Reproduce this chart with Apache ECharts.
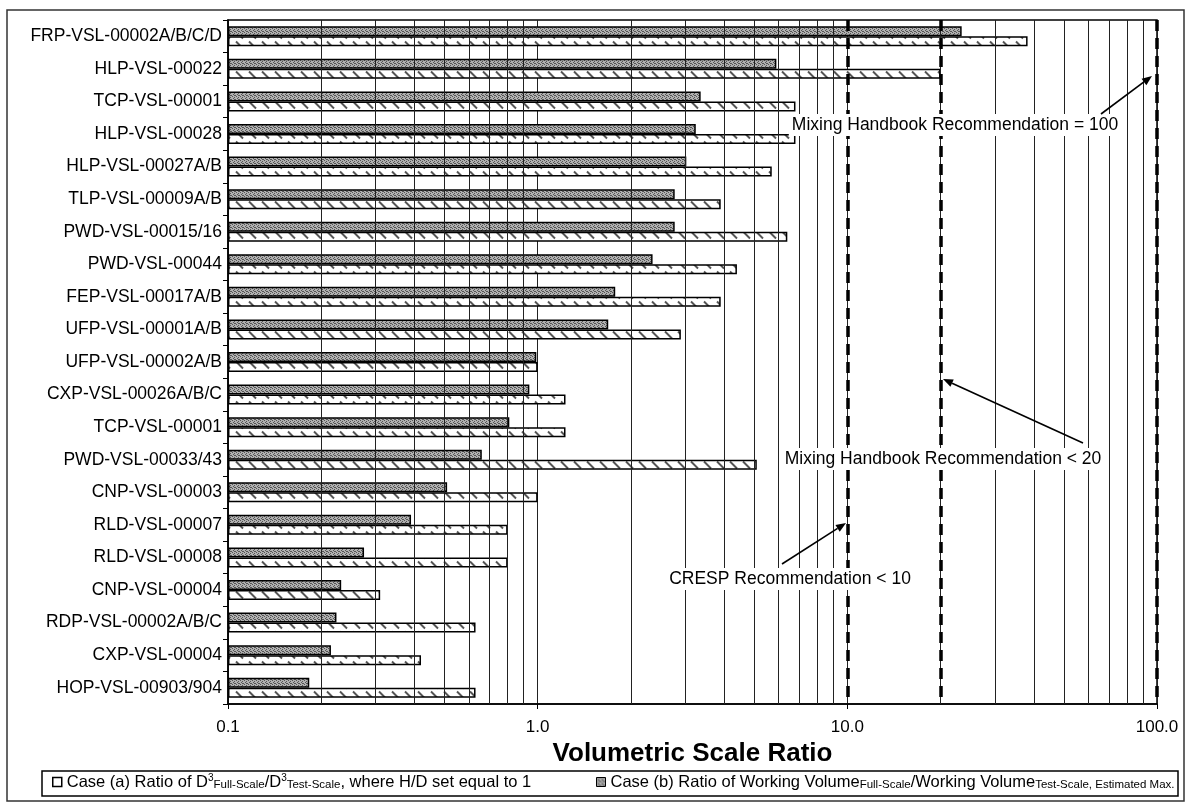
<!DOCTYPE html>
<html>
<head>
<meta charset="utf-8">
<script src="https://cdn.jsdelivr.net/npm/echarts@6/dist/echarts.min.js"></script>
<style>
  html, body { margin: 0; padding: 0; background: #fff; }
  #chart { width: 1190px; height: 808px; }
</style>
</head>
<body>
<div id="chart"></div>
<script>
// Vessels, listed top to bottom
const categories = [
  'FRP-VSL-00002A/B/C/D', 'HLP-VSL-00022', 'TCP-VSL-00001', 'HLP-VSL-00028',
  'HLP-VSL-00027A/B', 'TLP-VSL-00009A/B', 'PWD-VSL-00015/16', 'PWD-VSL-00044',
  'FEP-VSL-00017A/B', 'UFP-VSL-00001A/B', 'UFP-VSL-00002A/B', 'CXP-VSL-00026A/B/C',
  'TCP-VSL-00001', 'PWD-VSL-00033/43', 'CNP-VSL-00003', 'RLD-VSL-00007',
  'RLD-VSL-00008', 'CNP-VSL-00004', 'RDP-VSL-00002A/B/C', 'CXP-VSL-00004',
  'HOP-VSL-00903/904'
];

// Case (a): D^3 full-scale / D^3 test-scale, H/D = 1
const caseA = [38.2, 20.0, 6.8, 6.8, 5.7, 3.9, 6.4, 4.4, 3.9, 2.9, 1.0, 1.23,
  1.23, 5.1, 1.0, 0.8, 0.8, 0.31, 0.63, 0.42, 0.63];

// Case (b): working volume full-scale / working volume test-scale
const caseB = [23.4, 5.9, 3.36, 3.24, 3.02, 2.77, 2.77, 2.35, 1.78, 1.69, 0.99, 0.94,
  0.81, 0.66, 0.51, 0.39, 0.275, 0.232, 0.224, 0.215, 0.183];

// Log-axis tick labels and intermediate grid values
const tickValues = [0.1, 1, 10, 100];
const minorGrid = [0.2, 0.3, 0.4, 0.5, 0.6, 0.7, 0.8, 0.9, 2, 3, 4, 5, 6, 7, 8, 9,
  20, 30, 40, 50, 60, 70, 80, 90];

// Recommendation limits
const limits = [10, 20, 100];
const notes = [
  'Mixing Handbook Recommendation = 100',
  'Mixing Handbook Recommendation < 20',
  'CRESP Recommendation < 10'
];

const nameA = 'Case (a)';
const nameB = 'Case (b)';

function hatchPattern() {
  const c = document.createElement('canvas');
  c.width = 13; c.height = 10;
  const g = c.getContext('2d');
  g.fillStyle = '#ffffff';
  g.fillRect(0, 0, 13, 10);
  g.strokeStyle = '#555555';
  g.lineWidth = 1.9;
  g.beginPath();
  g.moveTo(2, 1.5);
  g.lineTo(9, 8.5);
  g.stroke();
  return c;
}

function stipplePattern() {
  const c = document.createElement('canvas');
  c.width = 4; c.height = 4;
  const g = c.getContext('2d');
  g.fillStyle = '#b0b0b0';
  g.fillRect(0, 0, 4, 4);
  g.fillStyle = '#555555';
  [[0, 0], [2, 1], [1, 2], [3, 3], [2, 3]].forEach(p => g.fillRect(p[0], p[1], 1, 1));
  return c;
}

const hatchFill = { image: hatchPattern(), repeat: 'repeat' };
const stippleFill = { image: stipplePattern(), repeat: 'repeat' };

const FONT = '"Liberation Sans", Arial, Helvetica, sans-serif';

const legendRich = {
  sup: { fontSize: 10, fontFamily: FONT, color: '#000', verticalAlign: 'top', lineHeight: 10 },
  sub: { fontSize: 11.5, fontFamily: FONT, color: '#000', verticalAlign: 'bottom', lineHeight: 10 }
};

function arrow(x1, y1, x2, y2) {
  const ang = Math.atan2(y2 - y1, x2 - x1);
  const len = 10, half = 4;
  const bx = x2 - len * Math.cos(ang), by = y2 - len * Math.sin(ang);
  const px = -Math.sin(ang) * half, py = Math.cos(ang) * half;
  return [
    { type: 'line', z: 100, shape: { x1: x1, y1: y1, x2: bx, y2: by },
      style: { stroke: '#000', lineWidth: 1.6 } },
    { type: 'polygon', z: 100,
      shape: { points: [[x2, y2], [bx + px, by + py], [bx - px, by - py]] },
      style: { fill: '#000' } }
  ];
}

function note(text, cx, cy) {
  return {
    type: 'text', z: 99, x: cx, y: cy,
    style: {
      text: text, font: '17.5px ' + FONT, fill: '#000',
      align: 'center', verticalAlign: 'middle',
      backgroundColor: '#fff', padding: [2, 3]
    }
  };
}

const chart = echarts.init(document.getElementById('chart'), null, { renderer: 'canvas' });

chart.setOption({
  animation: false,
  backgroundColor: '#fff',
  textStyle: { fontFamily: FONT },
  grid: {
    left: 228, right: 33, top: 20, bottom: 104,
    show: true, borderColor: '#000', borderWidth: 1.5, backgroundColor: 'transparent'
  },
  legend: [
    {
      data: [{ name: nameA, itemStyle: { color: '#fff', borderColor: '#000', borderWidth: 1.5 } }],
      left: 47, top: 771, icon: 'rect', itemWidth: 9, itemHeight: 9,
      selectedMode: false, padding: [2, 5],
      textStyle: { fontSize: 16.5, fontFamily: FONT, color: '#000', lineHeight: 18, rich: legendRich },
      formatter: () => 'Case (a) Ratio of D{sup|3}{sub|Full-Scale}/D{sup|3}{sub|Test-Scale}, where H/D set equal to 1'
    },
    {
      data: [{ name: nameB, itemStyle: { color: stippleFill, borderColor: '#000', borderWidth: 1 } }],
      left: 591, top: 771, icon: 'rect', itemWidth: 9, itemHeight: 9,
      selectedMode: false, padding: [2, 5],
      textStyle: { fontSize: 16.5, fontFamily: FONT, color: '#000', lineHeight: 18, rich: legendRich },
      formatter: () => 'Case (b) Ratio of Working Volume{sub|Full-Scale}/Working Volume{sub|Test-Scale, Estimated Max.}'
    }
  ],
  xAxis: {
    type: 'log',
    logBase: 10,
    min: tickValues[0],
    max: tickValues[tickValues.length - 1],
    startValue: tickValues[0],
    name: 'Volumetric Scale Ratio',
    nameLocation: 'middle',
    nameGap: 33,
    nameTextStyle: { fontSize: 26, fontWeight: 'bold', color: '#000', fontFamily: FONT },
    axisLine: { show: true, lineStyle: { color: '#000', width: 1.5 } },
    axisTick: { show: true, length: 5, lineStyle: { color: '#000', width: 1 } },
    axisLabel: {
      fontSize: 17, color: '#000', margin: 15, fontFamily: FONT,
      formatter: v => Number(v).toFixed(1)
    },
    splitLine: { show: true, lineStyle: { color: '#222', width: 1 } }
  },
  yAxis: {
    type: 'category',
    data: categories,
    inverse: true,
    axisLine: { show: true, lineStyle: { color: '#000', width: 1.5 } },
    axisTick: { show: true, length: 5, lineStyle: { color: '#000', width: 1 } },
    axisLabel: { fontSize: 17.5, color: '#000', margin: 6, fontFamily: FONT },
    splitLine: { show: false }
  },
  series: [
    {
      // intermediate log grid lines
      type: 'line', data: [], z: 1, silent: true,
      markLine: {
        silent: true, symbol: 'none', animation: false,
        label: { show: false },
        lineStyle: { color: '#222', width: 1, type: 'solid' },
        data: minorGrid.map(v => ({ xAxis: v }))
      }
    },
    {
      name: nameB, type: 'bar', data: caseB, z: 3,
      barWidth: 10, barGap: '0%',
      itemStyle: { color: stippleFill, borderColor: '#000', borderWidth: 1.5 }
    },
    {
      name: nameA, type: 'bar', data: caseA, z: 3,
      barWidth: 10, barGap: '0%',
      itemStyle: { color: hatchFill, borderColor: '#000', borderWidth: 1.5 }
    },
    {
      // recommendation limits
      type: 'line', data: [], z: 5, silent: true,
      markLine: {
        silent: true, symbol: 'none', animation: false,
        label: { show: false },
        lineStyle: { color: '#000', width: 3.5, type: [11, 7] },
        data: limits.map(v => ({ xAxis: v }))
      }
    }
  ],
  graphic: [
    { type: 'rect', z: 0, shape: { x: 7, y: 10, width: 1177, height: 791 },
      style: { fill: 'none', stroke: '#333', lineWidth: 1.5 } },
    { type: 'rect', z: 0, shape: { x: 42, y: 771, width: 1136, height: 25 },
      style: { fill: 'none', stroke: '#000', lineWidth: 1.5 } },
    note(notes[0], 955, 125),
    ...arrow(1101, 114, 1152, 76),
    note(notes[1], 943, 459),
    ...arrow(1083, 443, 943, 379),
    note(notes[2], 790, 579),
    ...arrow(782, 564, 846, 523)
  ]
});
</script>
</body>
</html>
